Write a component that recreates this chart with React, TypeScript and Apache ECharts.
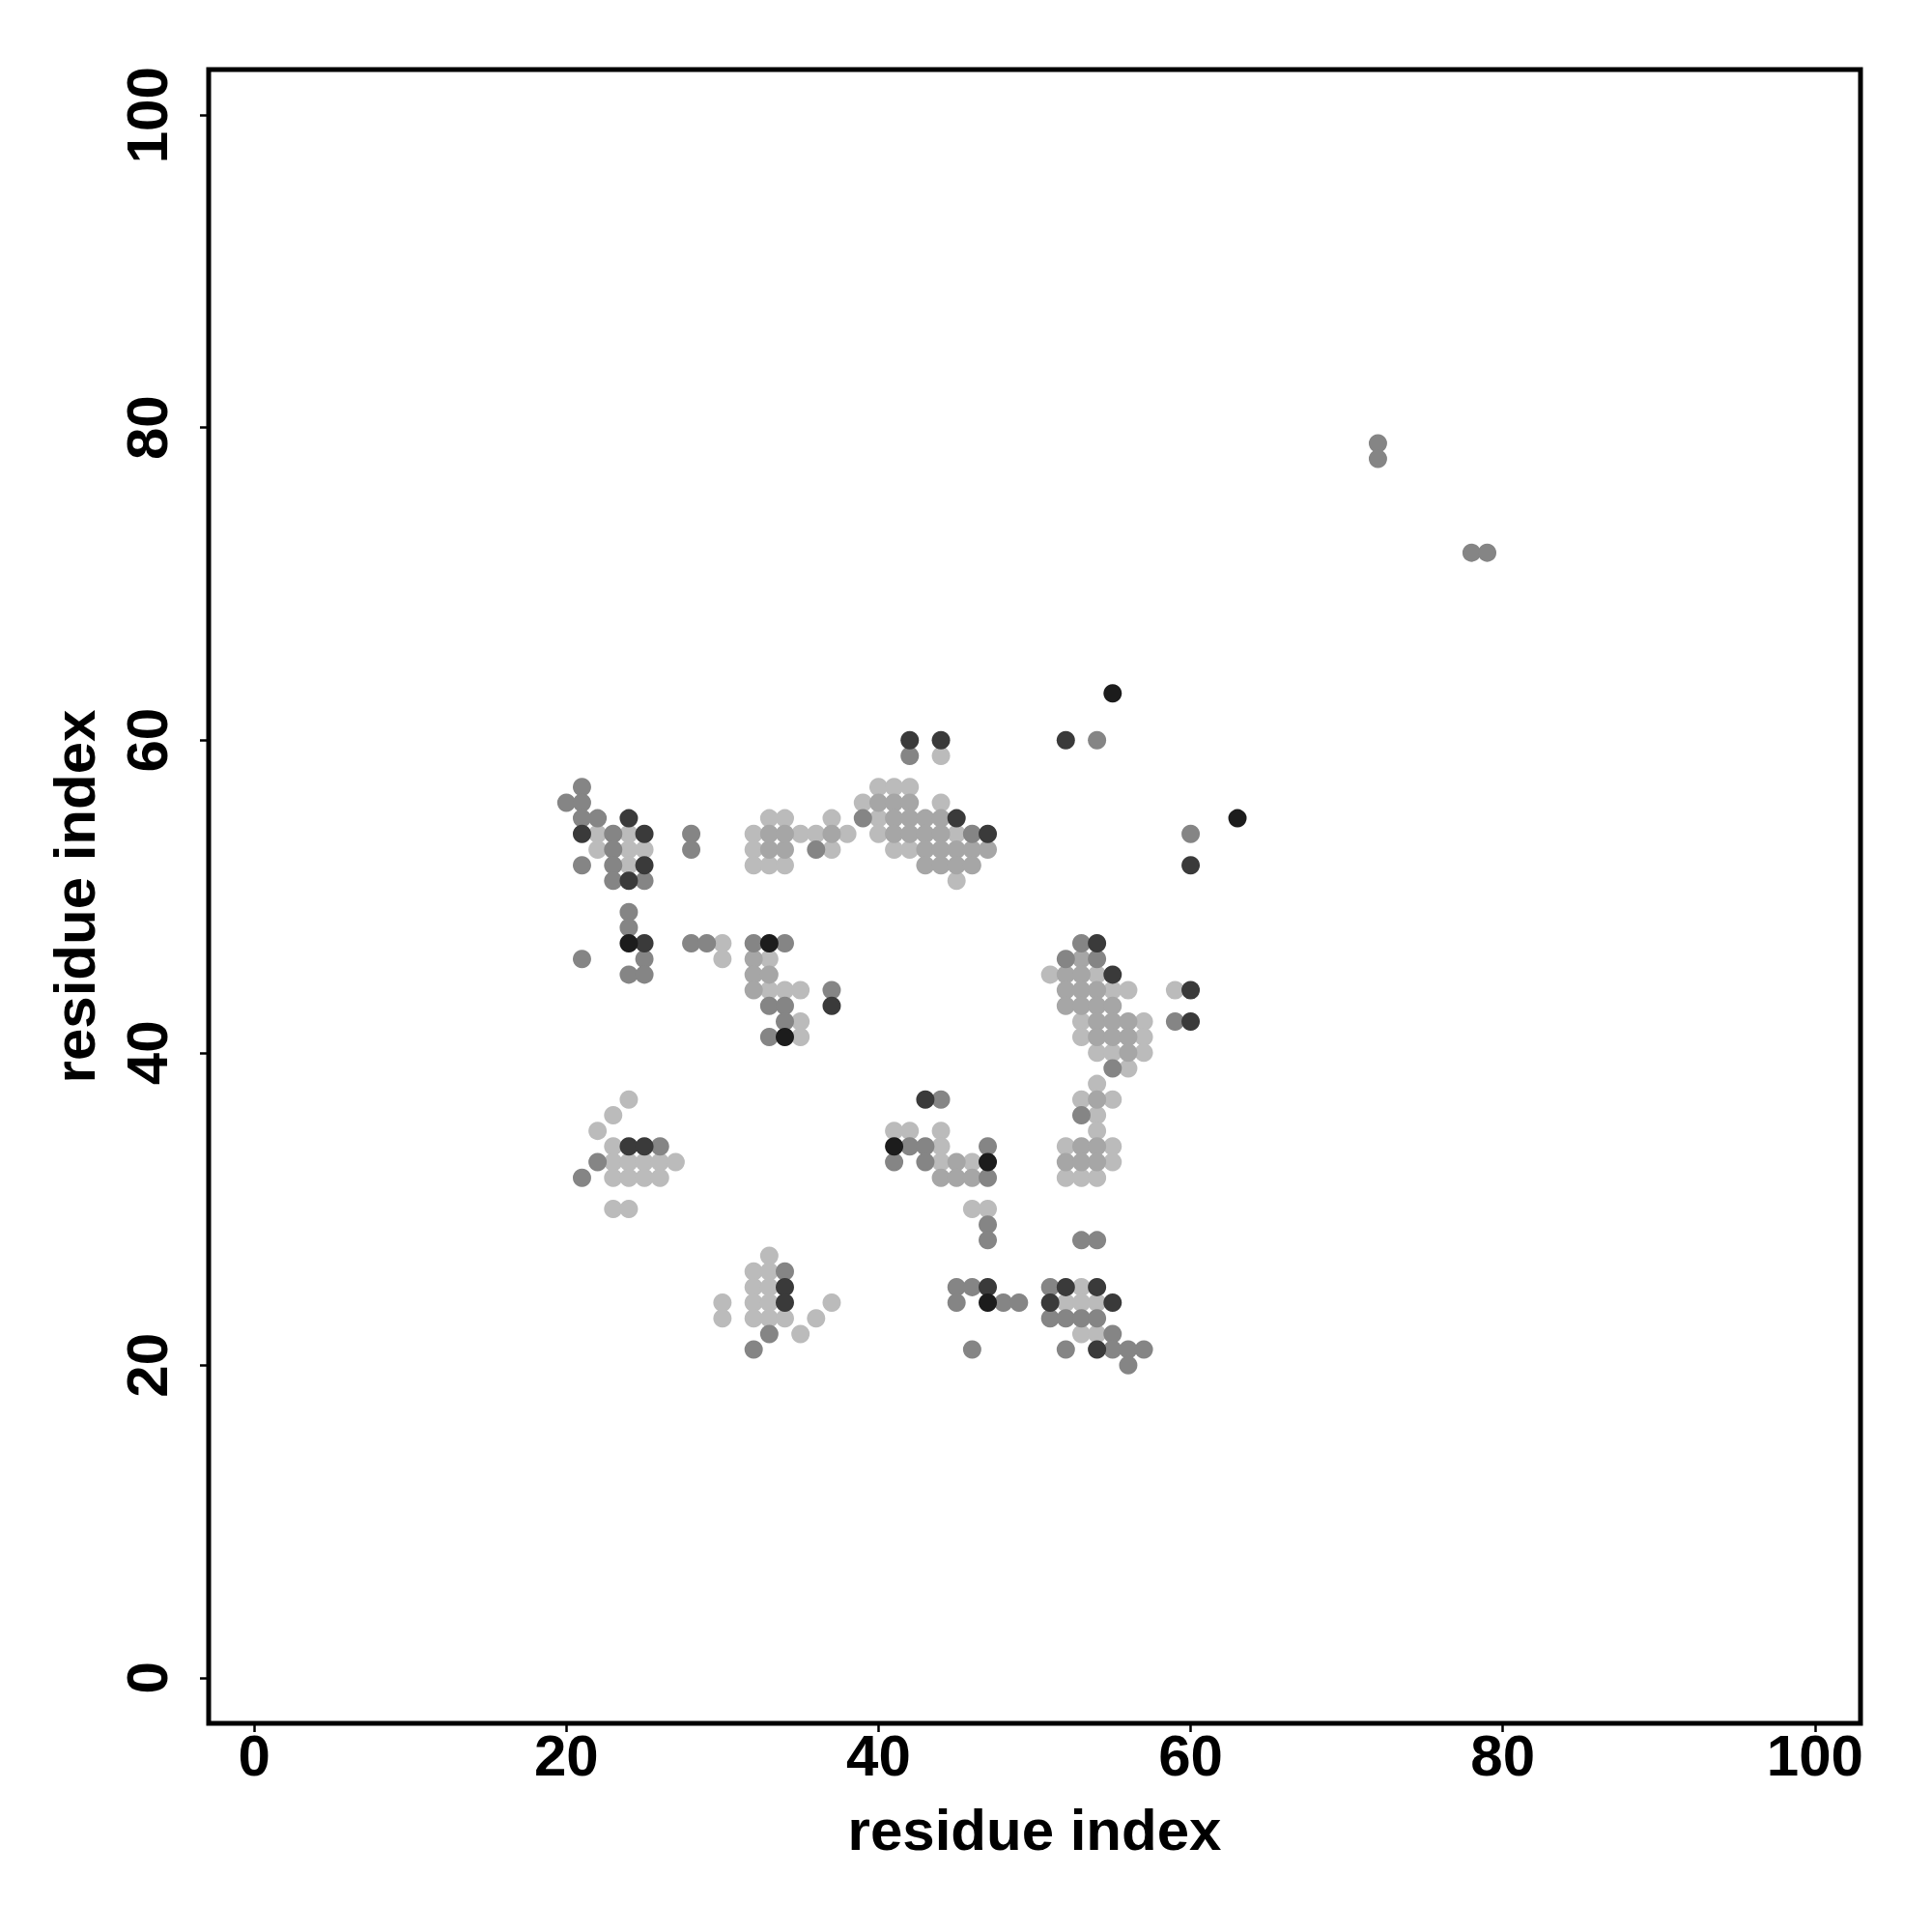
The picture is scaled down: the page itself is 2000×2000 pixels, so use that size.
import React, { useEffect, useRef } from "react";
import * as echarts from "echarts";

type Pt = [number, number];

const tickValues = [0, 20, 40, 60, 80, 100];
const axisTitle = "residue index";

// light grey contacts
const lightPts: Pt[] = [
  [22, 54], [24, 54], [22, 53], [24, 53], [25, 53], [24, 52],
  [32, 54], [33, 55], [34, 55], [32, 53], [32, 52], [33, 52], [34, 52],
  [44, 59], [40, 57], [41, 57], [42, 57], [39, 56], [44, 56], [37, 55], [40, 55],
  [35, 54], [36, 54], [38, 54], [40, 54], [45, 54], [37, 53], [41, 53], [42, 53], [45, 51],
  [30, 47], [30, 46], [33, 46], [33, 44], [34, 44], [35, 44], [35, 42], [35, 41],
  [24, 37], [23, 36], [22, 35], [23, 34], [41, 35], [42, 35], [44, 35], [44, 34],
  [51, 45], [54, 45], [55, 44], [56, 44], [59, 44], [53, 42], [57, 42], [53, 41], [57, 41],
  [54, 40], [55, 40], [57, 40], [56, 39], [54, 38], [53, 37], [55, 37], [54, 36], [54, 35],
  [52, 34], [55, 34],
  [23, 33], [24, 33], [25, 33], [26, 33], [27, 33], [23, 32], [24, 32], [25, 32], [26, 32],
  [23, 30], [24, 30], [33, 27], [32, 26], [33, 26], [32, 25], [33, 25], [30, 24], [32, 24],
  [33, 24], [30, 23], [32, 23], [33, 23], [34, 23],
  [44, 33], [46, 33], [46, 30], [47, 30], [37, 24], [36, 23], [35, 22],
  [55, 33], [52, 32], [53, 32], [54, 32], [53, 25], [52, 24], [53, 24], [54, 24], [53, 22], [54, 22],
];

// medium-light grey contacts
const midLightPts: Pt[] = [
  [33, 53], [34, 53], [33, 54], [34, 54],
  [40, 56], [41, 56], [42, 56], [41, 55], [42, 55], [43, 55], [44, 55], [37, 54],
  [41, 54], [42, 54], [43, 54], [44, 54], [43, 53], [44, 53], [45, 53], [46, 53], [47, 53],
  [43, 52], [44, 52], [45, 52], [46, 52],
  [32, 46], [32, 45], [33, 45], [32, 44],
  [53, 46], [52, 45], [53, 45], [52, 44], [53, 44], [54, 44], [52, 43], [53, 43], [54, 43], [55, 43],
  [54, 42], [55, 42], [56, 42], [54, 41], [55, 41], [56, 41], [56, 40], [54, 37], [53, 34], [54, 34],
  [45, 33], [44, 32], [45, 32], [46, 32], [52, 33], [53, 33], [54, 33],
];

// medium grey contacts
const midPts: Pt[] = [
  [21, 57], [20, 56], [21, 56], [21, 55], [22, 55], [23, 54], [28, 54], [23, 53], [28, 53],
  [21, 52], [23, 52], [23, 51], [25, 51], [42, 59], [39, 55], [36, 53], [46, 54], [60, 54], [54, 60],
  [24, 49], [24, 48], [28, 47], [29, 47], [32, 47], [34, 47], [21, 46], [25, 46], [24, 45], [25, 45],
  [33, 43], [34, 43], [34, 42], [33, 41], [37, 44], [44, 37], [26, 34], [42, 34], [43, 34], [47, 34],
  [41, 33], [43, 33], [47, 32], [47, 29], [47, 28], [34, 26], [45, 25], [46, 25], [45, 24], [48, 24],
  [49, 24], [46, 21], [53, 47], [52, 46], [54, 46], [59, 42], [55, 39], [53, 36], [22, 33], [21, 32],
  [33, 22], [32, 21], [53, 28], [54, 28], [51, 25], [51, 23], [52, 23], [53, 23], [54, 23], [55, 22],
  [52, 21], [55, 21], [56, 21], [57, 21], [56, 20], [72, 79], [72, 78], [78, 72], [79, 72],
];

// dark grey contacts
const darkPts: Pt[] = [
  [42, 60], [44, 60], [52, 60], [45, 55], [24, 55], [47, 54], [21, 54], [25, 54], [25, 52], [60, 52],
  [24, 51], [25, 47], [54, 47], [55, 45], [60, 44], [37, 43], [60, 42], [43, 37], [24, 34], [25, 34],
  [34, 25], [54, 25], [47, 25], [34, 24], [51, 24], [55, 24], [54, 21], [52, 25],
];

// near-black contacts
const blackPts: Pt[] = [
  [55, 63], [63, 55], [24, 47], [33, 47], [34, 41], [41, 34], [47, 33], [47, 24],
];

const groups: { data: Pt[]; color: string }[] = [
  { data: lightPts, color: "#bbbbbb" },
  { data: midLightPts, color: "#a6a6a6" },
  { data: midPts, color: "#858585" },
  { data: darkPts, color: "#3a3a3a" },
  { data: blackPts, color: "#1c1c1c" },
];

const FONT = "'Liberation Sans', Arial, Helvetica, sans-serif";

function makeAxis(isY: boolean) {
  return {
    type: "value",
    min: -2.92,
    max: 102.92,
    name: axisTitle,
    nameLocation: "middle",
    nameGap: isY ? 109 : 80,
    nameTextStyle: { fontSize: 60, fontWeight: "bold", fontFamily: FONT, color: "#000" },
    axisLine: { show: false, onZero: false },
    splitLine: { show: false },
    axisTick: {
      show: true,
      length: 9,
      inside: false,
      customValues: tickValues,
      lineStyle: { color: "#000", width: 2.5 },
    },
    axisLabel: {
      show: true,
      customValues: tickValues,
      fontSize: 60,
      fontWeight: "bold",
      fontFamily: FONT,
      color: "#000",
      margin: isY ? 34 : 3,
      rotate: isY ? 90 : 0,
    },
  };
}

export default function App() {
  const ref = useRef<HTMLDivElement>(null);
  useEffect(() => {
    if (!ref.current) return;
    const chart = echarts.init(ref.current, null, { renderer: "svg" });
    chart.setOption({
      animation: false,
      backgroundColor: "#ffffff",
      grid: {
        left: 216,
        right: 74,
        top: 72,
        bottom: 216,
        show: true,
        borderColor: "#000",
        borderWidth: 5,
        backgroundColor: "transparent",
      },
      xAxis: makeAxis(false),
      yAxis: makeAxis(true),
      series: groups.map((g) => ({
        type: "scatter",
        data: g.data,
        symbol: "circle",
        symbolSize: 19,
        itemStyle: { color: g.color, opacity: 1 },
        emphasis: { disabled: true },
      })),
    });
    return () => chart.dispose();
  }, []);
  return (
    <div
      ref={ref}
      style={{ position: "absolute", left: 0, top: 0, width: 2000, height: 2000, background: "#fff" }}
    />
  );
}
